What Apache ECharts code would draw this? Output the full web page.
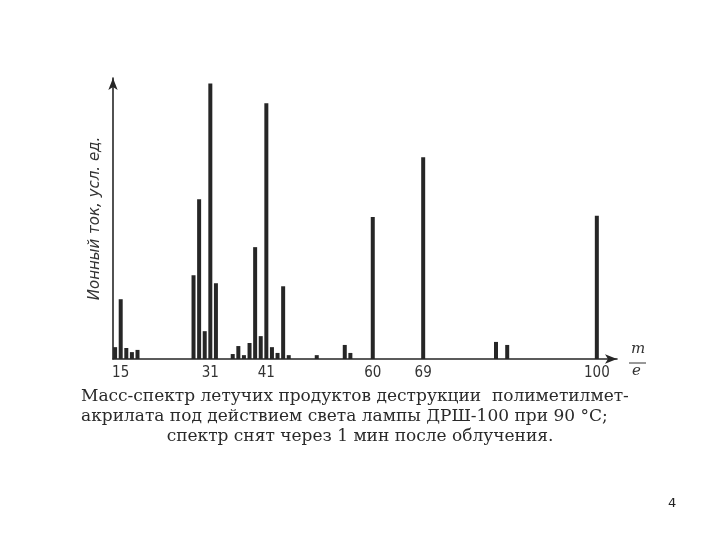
<!DOCTYPE html>
<html>
<head>
<meta charset="utf-8">
<script src="https://cdn.jsdelivr.net/npm/echarts@6/dist/echarts.min.js"></script>
<style>html,body{margin:0;padding:0;background:#fff;}#c{width:720px;height:540px;}</style>
</head>
<body>
<div id="c"></div>
<script>
// m/e values of peaks
var massValues = [14, 15, 16, 17, 18, 28, 29, 30, 31, 32, 35, 36, 37, 38, 39, 40, 41, 42, 43, 44, 45, 50, 55, 56, 60, 69, 82, 84, 100];
// relative ion current (arbitrary units, tallest = 100)
var intensities = [4.3, 21.7, 4.0, 2.5, 3.3, 30.4, 58, 10.1, 100, 27.5, 1.8, 4.7, 1.4, 5.8, 40.6, 8.3, 92.8, 4.3, 2.2, 26.4, 1.4, 1.4, 5.1, 2.2, 51.5, 73.2, 6.2, 5.1, 52];
var tickLabels = [15, 31, 41, 60, 69, 100];
var yAxisTitle = 'Ионный ток, усл. ед.';
var captionLines = [
  'Масс-спектр летучих продуктов деструкции  полиметилмет-',
  'акрилата под действием света лампы ДРШ-100 при 90 °С;',
  'спектр снят через 1 мин после облучения.'
];
var pageNumber = '4';

var chart = echarts.init(document.getElementById('c'));
var data = massValues.map(function (m, i) { return [m, intensities[i]]; });
var ink = '#262626';
var capFont = '"DejaVu Serif", "Liberation Serif", serif';

chart.setOption({
  backgroundColor: '#ffffff',
  animation: false,
  grid: { left: 113, right: 103, top: 78, bottom: 181 },
  xAxis: {
    type: 'value',
    min: 13.625,
    max: 103.6,
    splitLine: { show: false },
    axisTick: { show: false },
    axisLine: { show: true, onZero: false, lineStyle: { color: ink, width: 1.6 }, symbol: ['none', 'arrow'], symbolSize: [7, 12] },
    axisLabel: {
      customValues: tickLabels,
      color: '#333',
      fontSize: 15,
      margin: 7,
      fontFamily: '"Liberation Sans Narrow", "DejaVu Sans Condensed", sans-serif'
    }
  },
  yAxis: {
    type: 'value',
    min: 0,
    max: 102,
    splitLine: { show: false },
    axisTick: { show: false },
    axisLabel: { show: false },
    axisLine: { show: true, lineStyle: { color: ink, width: 1.6 }, symbol: ['none', 'arrow'], symbolSize: [7, 12] },
    name: yAxisTitle,
    nameLocation: 'middle',
    nameRotate: 90,
    nameGap: 10,
    nameTextStyle: { fontFamily: '"DejaVu Sans", sans-serif', fontStyle: 'italic', fontSize: 15, color: '#333' }
  },
  series: [{
    type: 'bar',
    data: data,
    barWidth: 4,
    itemStyle: { color: ink },
    silent: true
  }],
  graphic: [
    { type: 'text', left: 631, top: 342, style: { text: 'm', font: 'italic 15px "DejaVu Serif", serif', fill: '#333' } },
    { type: 'line', shape: { x1: 629, y1: 363, x2: 646, y2: 363 }, style: { stroke: '#333', lineWidth: 1 } },
    { type: 'text', left: 632, top: 364, style: { text: 'e', font: 'italic 15px "DejaVu Serif", serif', fill: '#333' } },
    { type: 'text', left: 81, top: 388, style: { text: captionLines[0], font: '17px ' + capFont, fill: '#2a2a2a' } },
    { type: 'text', left: 81, top: 408, style: { text: captionLines[1], font: '17px ' + capFont, fill: '#2a2a2a' } },
    { type: 'text', x: 360, y: 428, style: { text: captionLines[2], font: '17px ' + capFont, fill: '#2a2a2a', textAlign: 'center' } },
    { type: 'text', left: 668, top: 497, style: { text: pageNumber, font: '13px "DejaVu Sans", sans-serif', fill: '#222' } }
  ]
});
</script>
</body>
</html>
